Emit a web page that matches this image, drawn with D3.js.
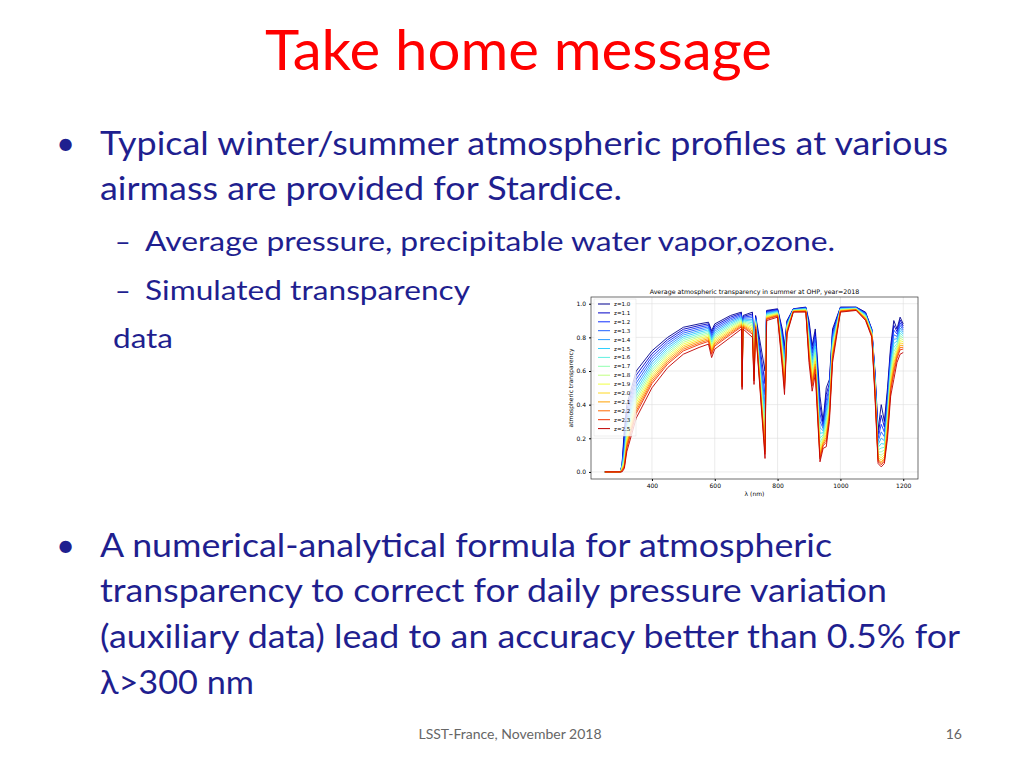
<!DOCTYPE html>
<html><head><meta charset="utf-8">
<script src="https://cdn.jsdelivr.net/npm/d3@7"></script>
<style>body{margin:0;background:#fff}svg{display:block}</style>
</head><body><div id="chart"></div>
<script>
const wavelengths = [250,300,305,312,320,350,400,450,500,550,580,590,600,650,685,687,690,720,725,730,760,765,800,815,822,830,850,890,900,910,920,935,945,955,965,975,1000,1050,1080,1100,1110,1120,1130,1140,1150,1160,1170,1180,1190,1200];
const transZ10 = [0,0,0.05,0.25,0.4,0.6,0.72,0.8,0.86,0.88,0.89,0.84,0.88,0.93,0.95,0.6,0.93,0.95,0.7,0.93,0.6,0.96,0.97,0.85,0.75,0.9,0.97,0.98,0.9,0.75,0.85,0.45,0.3,0.5,0.55,0.85,0.98,0.98,0.95,0.85,0.6,0.25,0.4,0.3,0.5,0.75,0.9,0.85,0.92,0.88];
const transZ25 = [0,0,0,0.02,0.12,0.32,0.5,0.62,0.7,0.74,0.76,0.68,0.73,0.8,0.85,0.49,0.85,0.8,0.52,0.85,0.08,0.9,0.92,0.62,0.46,0.82,0.95,0.95,0.65,0.48,0.58,0.06,0.14,0.15,0.3,0.65,0.95,0.96,0.9,0.8,0.45,0.05,0.03,0.05,0.2,0.45,0.55,0.65,0.7,0.71];
const airmass = ["1.0","1.1","1.2","1.3","1.4","1.5","1.6","1.7","1.8","1.9","2.0","2.1","2.2","2.3","2.5"];
const colors = ["#00008f","#0000c8","#1030ff","#2060ff","#2a9cff","#30d0ff","#60f0e0","#90ffb0","#c0ff80","#f0ff40","#ffd820","#ffa000","#ff6a00","#f03000","#c00000"];
const xTicks = [400,600,800,1000,1200];
const yTicks = [0,0.2,0.4,0.6,0.8,1.0];

const svg = d3.select("#chart").append("svg").attr("width",1024).attr("height",768);
const font = "Lato, 'Open Sans', sans-serif";
const blue = "#1f1f8f";

svg.append("text").attr("x",265).attr("y",70).attr("textLength",507).attr("lengthAdjust","spacingAndGlyphs")
  .attr("font-family",font).attr("font-size",56).attr("fill","#ff0000").text("Take home message");

const lines = [
  {x:100,y:155,s:33,w:848,t:"Typical winter/summer atmospheric profiles at various"},
  {x:100,y:200,s:33,w:522,t:"airmass are provided for Stardice."},
  {x:145,y:251,s:27,w:690,t:"Average pressure, precipitable water vapor,ozone."},
  {x:145,y:300,s:27,w:325,t:"Simulated transparency"},
  {x:113,y:348,s:27,w:60,t:"data"},
  {x:100,y:557,s:33,w:732,t:"A numerical-analytical formula for atmospheric"},
  {x:100,y:602,s:33,w:787,t:"transparency to correct for daily pressure variation"},
  {x:100,y:648,s:33,w:860,t:"(auxiliary data) lead to an accuracy better than 0.5% for"},
  {x:100,y:694,s:33,w:154,t:"λ>300 nm"}
];
lines.forEach(d => svg.append("text").attr("x",d.x).attr("y",d.y).attr("font-family",font)
  .attr("font-size",d.s).attr("textLength",d.w).attr("lengthAdjust","spacingAndGlyphs")
  .attr("fill",blue).text(d.t));
[[56,155],[56,557]].forEach(p => svg.append("text").attr("x",p[0]).attr("y",p[1]).attr("font-family",font)
  .attr("font-size",33).attr("fill",blue).text("•"));
[[115,251],[115,300]].forEach(p => svg.append("text").attr("x",p[0]).attr("y",p[1]).attr("font-family",font)
  .attr("font-size",27).attr("fill",blue).text("–"));
svg.append("text").attr("x",510).attr("y",739).attr("text-anchor","middle").attr("font-family",font)
  .attr("font-size",14).attr("fill","#666").text("LSST-France, November 2018");
svg.append("text").attr("x",962).attr("y",739).attr("text-anchor","end").attr("font-family",font)
  .attr("font-size",14).attr("fill","#666").text("16");

// chart
const L=591,R=918,T=297,B=479;
const x = d3.scaleLinear().domain([206,1247]).range([L,R]);
const y = d3.scaleLinear().domain([-0.042,1.04]).range([B,T]);
const g = svg.append("g").attr("font-family","'DejaVu Sans', sans-serif");
g.append("rect").attr("x",L).attr("y",T).attr("width",R-L).attr("height",B-T).attr("fill","#fff");
xTicks.forEach(t => g.append("line").attr("x1",x(t)).attr("x2",x(t)).attr("y1",T).attr("y2",B).attr("stroke","#ddd").attr("stroke-width",0.6));
yTicks.forEach(t => g.append("line").attr("x1",L).attr("x2",R).attr("y1",y(t)).attr("y2",y(t)).attr("stroke","#ddd").attr("stroke-width",0.6));

const lineGen = d3.line().x(d => x(d[0])).y(d => y(d[1]));
airmass.forEach((z,i) => {
  const f = (+z - 1) / 1.5;
  const pts = wavelengths.map((w,k) => {
    const a = transZ10[k], b = transZ25[k];
    const v = (a > 0 && b > 0) ? a * Math.pow(b / a, f) : a + (b - a) * f;
    return [w, v];
  });
  g.append("path").attr("d",lineGen(pts)).attr("fill","none").attr("stroke",colors[i]).attr("stroke-width",0.9);
});

g.append("rect").attr("x",L).attr("y",T).attr("width",R-L).attr("height",B-T).attr("fill","none").attr("stroke","#333").attr("stroke-width",0.7);
g.append("g").attr("transform",`translate(0,${B})`)
  .call(d3.axisBottom(x).tickValues(xTicks).tickSize(2).tickFormat(d3.format("d")))
  .call(a => {a.select(".domain").remove(); a.selectAll("text").attr("font-size",6).attr("font-family","'DejaVu Sans'");});
g.append("g").attr("transform",`translate(${L},0)`)
  .call(d3.axisLeft(y).tickValues(yTicks).tickSize(2).tickFormat(d3.format(".1f")))
  .call(a => {a.select(".domain").remove(); a.selectAll("text").attr("font-size",6).attr("font-family","'DejaVu Sans'");});
g.append("text").attr("x",(L+R)/2).attr("y",496).attr("text-anchor","middle").attr("font-size",6).text("λ (nm)");
g.append("text").attr("transform",`translate(573,${(T+B)/2}) rotate(-90)`).attr("text-anchor","middle").attr("font-size",6).text("atmospheric transparency");
g.append("text").attr("x",(L+R)/2).attr("y",294).attr("text-anchor","middle").attr("font-size",6.3).text("Average atmospheric transparency in summer at OHP, year=2018");

const lg = g.append("g");
lg.append("rect").attr("x",594).attr("y",299).attr("width",42).attr("height",137).attr("fill","#fff").attr("fill-opacity",0.8).attr("stroke","#ddd").attr("stroke-width",0.5);
airmass.forEach((z,i) => {
  const yy = 304 + i*8.9;
  lg.append("line").attr("x1",598).attr("x2",610).attr("y1",yy).attr("y2",yy).attr("stroke",colors[i]).attr("stroke-width",1);
  lg.append("text").attr("x",614).attr("y",yy+2).attr("font-size",5.5).text("z=" + z);
});
</script></body></html>
